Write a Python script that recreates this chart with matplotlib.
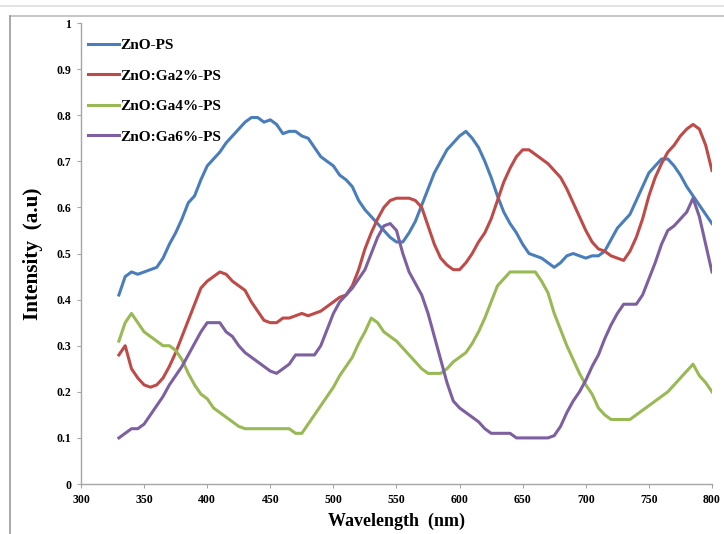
import matplotlib
matplotlib.use('Agg')
import matplotlib.pyplot as plt
from matplotlib.lines import Line2D
import numpy as np

wavelength = list(range(330, 801, 5))

zno_ps = [0.41, 0.45, 0.46, 0.455, 0.46, 0.465, 0.47, 0.49, 0.52, 0.545,
          0.575, 0.61, 0.625, 0.66, 0.69, 0.705, 0.72, 0.74, 0.755, 0.77,
          0.785, 0.795, 0.795, 0.785, 0.79, 0.78, 0.76, 0.765, 0.765, 0.755,
          0.75, 0.73, 0.71, 0.70, 0.69, 0.67, 0.66, 0.645, 0.615, 0.595,
          0.58, 0.565, 0.55, 0.535, 0.525, 0.525, 0.545, 0.57, 0.605, 0.64,
          0.675, 0.70, 0.725, 0.74, 0.755, 0.765, 0.75, 0.73, 0.70, 0.665,
          0.625, 0.59, 0.565, 0.545, 0.52, 0.50, 0.495, 0.49, 0.48, 0.47,
          0.48, 0.495, 0.50, 0.495, 0.49, 0.495, 0.495, 0.505, 0.53, 0.555,
          0.57, 0.585, 0.615, 0.645, 0.675, 0.69, 0.705, 0.705, 0.69, 0.67,
          0.645, 0.625, 0.605, 0.585, 0.565]

ga2 = [0.28, 0.30, 0.25, 0.23, 0.215, 0.21, 0.215, 0.23, 0.255, 0.285,
       0.32, 0.355, 0.39, 0.425, 0.44, 0.45, 0.46, 0.455, 0.44, 0.43,
       0.42, 0.395, 0.375, 0.355, 0.35, 0.35, 0.36, 0.36, 0.365, 0.37,
       0.365, 0.37, 0.375, 0.385, 0.395, 0.405, 0.41, 0.43, 0.465, 0.51,
       0.545, 0.575, 0.60, 0.615, 0.62, 0.62, 0.62, 0.615, 0.60, 0.56,
       0.52, 0.49, 0.475, 0.465, 0.465, 0.48, 0.50, 0.525, 0.545, 0.575,
       0.615, 0.655, 0.685, 0.71, 0.725, 0.725, 0.715, 0.705, 0.695, 0.68,
       0.665, 0.64, 0.61, 0.58, 0.55, 0.525, 0.51, 0.505, 0.495, 0.49,
       0.485, 0.505, 0.535, 0.575, 0.625, 0.665, 0.695, 0.72, 0.735, 0.755,
       0.77, 0.78, 0.77, 0.735, 0.68]

ga4 = [0.31, 0.35, 0.37, 0.35, 0.33, 0.32, 0.31, 0.30, 0.30, 0.29,
       0.27, 0.24, 0.215, 0.195, 0.185, 0.165, 0.155, 0.145, 0.135, 0.125,
       0.12, 0.12, 0.12, 0.12, 0.12, 0.12, 0.12, 0.12, 0.11, 0.11,
       0.13, 0.15, 0.17, 0.19, 0.21, 0.235, 0.255, 0.275, 0.305, 0.33,
       0.36, 0.35, 0.33, 0.32, 0.31, 0.295, 0.28, 0.265, 0.25, 0.24,
       0.24, 0.24, 0.25, 0.265, 0.275, 0.285, 0.305, 0.33, 0.36, 0.395,
       0.43, 0.445, 0.46, 0.46, 0.46, 0.46, 0.46, 0.44, 0.415, 0.37,
       0.335, 0.30, 0.27, 0.24, 0.215, 0.195, 0.165, 0.15, 0.14, 0.14,
       0.14, 0.14, 0.15, 0.16, 0.17, 0.18, 0.19, 0.20, 0.215, 0.23,
       0.245, 0.26, 0.235, 0.22, 0.20]

ga6 = [0.10, 0.11, 0.12, 0.12, 0.13, 0.15, 0.17, 0.19, 0.215, 0.235,
       0.255, 0.28, 0.305, 0.33, 0.35, 0.35, 0.35, 0.33, 0.32, 0.30,
       0.285, 0.275, 0.265, 0.255, 0.245, 0.24, 0.25, 0.26, 0.28, 0.28,
       0.28, 0.28, 0.30, 0.335, 0.37, 0.395, 0.41, 0.425, 0.445, 0.465,
       0.50, 0.535, 0.56, 0.565, 0.55, 0.50, 0.46, 0.435, 0.41, 0.37,
       0.32, 0.27, 0.22, 0.18, 0.165, 0.155, 0.145, 0.135, 0.12, 0.11,
       0.11, 0.11, 0.11, 0.10, 0.10, 0.10, 0.10, 0.10, 0.10, 0.105,
       0.125, 0.155, 0.18, 0.20, 0.225, 0.255, 0.28, 0.315, 0.345, 0.37,
       0.39, 0.39, 0.39, 0.41, 0.445, 0.48, 0.52, 0.55, 0.56, 0.575,
       0.59, 0.62, 0.58, 0.52, 0.46]

labels = ['ZnO-PS', 'ZnO:Ga2%-PS', 'ZnO:Ga4%-PS', 'ZnO:Ga6%-PS']
colors = ['#4a7ebb', '#be4b48', '#98b954', '#7d60a0']

plt.rcParams['font.family'] = ['Liberation Serif', 'DejaVu Serif']

fig = plt.figure(figsize=(7.24, 5.34), dpi=100)
ax = fig.add_axes([0.1119, 0.0936, 0.8715, 0.8633])

for y, lab, c in zip([zno_ps, ga2, ga4, ga6], labels, colors):
    ax.plot(wavelength, y, color=c, lw=2.2, label=lab)

ax.set_xlim(300, 800)
ax.set_ylim(0, 1)
ax.set_xticks(np.arange(300, 801, 50))
ax.set_yticks(np.arange(0, 1.01, 0.1))
ax.set_yticklabels(['0', '0.1', '0.2', '0.3', '0.4', '0.5', '0.6', '0.7', '0.8', '0.9', '1'])

for s in ['top', 'right']:
    ax.spines[s].set_visible(False)
for s in ['left', 'bottom']:
    ax.spines[s].set_color('#a6a6a6')
    ax.spines[s].set_linewidth(1.0)
ax.tick_params(axis='both', direction='out', length=3, color='#a6a6a6',
               labelsize=8.5, pad=4)
for t in ax.get_xticklabels() + ax.get_yticklabels():
    t.set_fontweight('bold')

ax.set_xlabel('Wavelength  (nm)', fontsize=13, fontweight='bold', labelpad=5)
ax.set_ylabel('Intensity  (a.u)', fontsize=15.3, fontweight='bold', labelpad=10)

leg = ax.legend(loc='upper left', bbox_to_anchor=(-0.0055, 0.99), frameon=False,
                prop={'weight': 'bold', 'size': 11}, handlelength=2.0,
                handletextpad=0.1, labelspacing=1.1, borderaxespad=0.3)

# outer frame of the screenshot
fig.add_artist(Line2D([0, 1], [1 - 6 / 534, 1 - 6 / 534], color='#dddddd', lw=1.2,
                      transform=fig.transFigure))
fig.add_artist(Line2D([10 / 724, 1], [1 - 16 / 534, 1 - 16 / 534], color='#bbbbbb', lw=1.2,
                      transform=fig.transFigure))
fig.add_artist(Line2D([10 / 724, 10 / 724], [0, 1 - 16 / 534], color='#999999', lw=1.2,
                      transform=fig.transFigure))

fig.savefig('out.png', dpi=100)
